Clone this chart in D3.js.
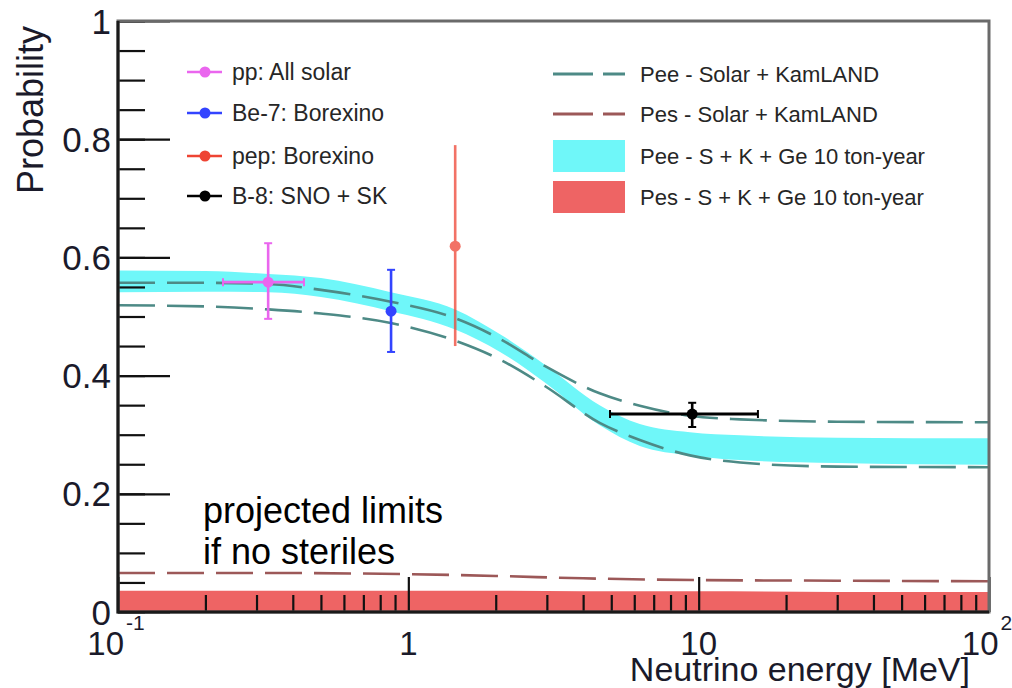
<!DOCTYPE html>
<html>
<head>
<meta charset="utf-8">
<script src="https://cdn.jsdelivr.net/npm/d3@7/dist/d3.min.js"></script>
<style>
  body { margin: 0; background: #fff; }
  text { font-family: "Liberation Sans", Arial, Helvetica, sans-serif; }
</style>
</head>
<body>
<div class="chart-container"></div>
<script>
// 曲線讀值的能量點 (MeV)
const curveEnergy = [0.1, 0.2, 0.33, 0.5, 0.87, 1.45, 2.07, 2.96, 4.56, 6.27, 9.33, 13.9, 30, 100];
// Pee - Solar + KamLAND (兩條虛線)
const peeUpper = [0.557, 0.557, 0.555, 0.545, 0.525, 0.497, 0.462, 0.416, 0.370, 0.349, 0.332, 0.326, 0.322, 0.321];
const peeLower = [0.519, 0.517, 0.512, 0.505, 0.489, 0.459, 0.427, 0.382, 0.320, 0.291, 0.265, 0.253, 0.246, 0.245];
// Pee - S + K + Ge 10 ton-year (青色帶)
const peeBandTop = [0.578, 0.577, 0.572, 0.565, 0.541, 0.512, 0.470, 0.418, 0.350, 0.318, 0.304, 0.299, 0.295, 0.294];
const peeBandBottom = [0.541, 0.542, 0.541, 0.533, 0.509, 0.478, 0.440, 0.388, 0.316, 0.281, 0.265, 0.257, 0.252, 0.249];

// Pes 曲線
const pesEnergy = [0.1, 0.33, 1, 2, 4, 10, 30, 100];
const pesLine = [0.066, 0.066, 0.064, 0.061, 0.057, 0.054, 0.053, 0.052];
const pesBandTop = [0.036, 0.036, 0.036, 0.036, 0.035, 0.035, 0.034, 0.034];
const pesBandBottom = [0, 0, 0, 0, 0, 0, 0, 0];

// 量測點
const pointNames = ['pp: All solar', 'Be-7: Borexino', 'pep: Borexino', 'B-8: SNO + SK'];
const pointColors = ['#ea66ee', '#3344ff', '#ee4433', '#000000'];
const pointEnergy = [0.329, 0.872, 1.45, 9.5];
const pointEnergyLow = [0.230, null, null, 4.95];
const pointEnergyHigh = [0.437, null, null, 16.0];
const pointProb = [0.558, 0.509, 0.619, 0.335];
const pointProbLow = [0.496, 0.440, 0.450, 0.313];
const pointProbHigh = [0.624, 0.579, 0.790, 0.354];

// 圖例 (右側)
const curveNames = ['Pee - Solar + KamLAND', 'Pes - Solar + KamLAND', 'Pee - S + K + Ge 10 ton-year', 'Pes - S + K + Ge 10 ton-year'];

// 刻度
const yMajorTicks = [0, 0.2, 0.4, 0.6, 0.8, 1];
const yTickLabels = ['0', '0.2', '0.4', '0.6', '0.8', '1'];
const yMinorTicks = d3.range(0, 1.0001, 0.05);
const xMajorTicks = [0.1, 1, 10, 100];
const xTickBase = ['10', '1', '10', '10'];
const xTickExp = ['-1', '', '', '2'];
const xMinorTicks = [0.1, 1, 10].flatMap(d => d3.range(2, 10).map(k => k * d));

const colors = {
    pee: '#4d8a86',
    pes: '#9c5858',
    peeBand: '#6ff7f9',
    pesBand: '#ee6464'
};

function setupCanvas() {
    const svg_width = 1012;
    const svg_height = 688;
    const margin = { top: 21, bottom: 76, left: 118, right: 23 };
    const x0 = margin.left, x1 = svg_width - margin.right;
    const y0 = svg_height - margin.bottom, y1 = margin.top;

    const svg = d3.select('.chart-container')
        .append('svg')
        .attr('width', svg_width).attr('height', svg_height)
        .style('background', '#fff');

    const xScale = d3.scaleLog().domain([0.1, 100]).range([x0, x1]);
    const yScale = d3.scaleLinear().domain([0, 1]).range([y0, y1]);

    const plot = svg.append('g');

    // 帶狀區域
    const bandGen = d3.area()
        .x(d => xScale(d[0]))
        .y0(d => yScale(d[1]))
        .y1(d => yScale(d[2]))
        .curve(d3.curveMonotoneX);
    plot.append('path')
        .attr('d', bandGen(curveEnergy.map((e, i) => [e, peeBandBottom[i], peeBandTop[i]])))
        .style('fill', colors.peeBand);
    plot.append('path')
        .attr('d', bandGen(pesEnergy.map((e, i) => [e, pesBandBottom[i], pesBandTop[i]])))
        .style('fill', colors.pesBand);

    // 虛線
    const lineGen = d3.line()
        .x(d => xScale(d[0]))
        .y(d => yScale(d[1]))
        .curve(d3.curveMonotoneX);
    [peeUpper, peeLower].forEach(vals => {
        plot.append('path')
            .attr('d', lineGen(curveEnergy.map((e, i) => [e, vals[i]])))
            .style('fill', 'none').style('stroke', colors.pee)
            .style('stroke-width', 2.6).style('stroke-dasharray', '37,12');
    });
    plot.append('path')
        .attr('d', lineGen(pesEnergy.map((e, i) => [e, pesLine[i]])))
        .style('fill', 'none').style('stroke', colors.pes)
        .style('stroke-width', 2.6).style('stroke-dasharray', '37,12');

    // 刻度 (向內)
    const tickStyle = g => {
        g.select('.domain').remove();
        g.selectAll('.tick line').style('stroke', '#111').style('stroke-width', 2.2);
        g.selectAll('.tick text').remove();
    };
    svg.append('g').attr('transform', `translate(0,${y0})`)
        .call(d3.axisBottom(xScale).tickValues(xMinorTicks).tickSize(-17).tickFormat(''))
        .call(tickStyle);
    svg.append('g').attr('transform', `translate(0,${y0})`)
        .call(d3.axisBottom(xScale).tickValues(xMajorTicks).tickSize(-35).tickFormat(''))
        .call(tickStyle);
    svg.append('g').attr('transform', `translate(${x0},0)`)
        .call(d3.axisLeft(yScale).tickValues(yMinorTicks).tickSize(-27).tickFormat(''))
        .call(tickStyle);
    svg.append('g').attr('transform', `translate(${x0},0)`)
        .call(d3.axisLeft(yScale).tickValues(yMajorTicks).tickSize(-52).tickFormat(''))
        .call(tickStyle);

    // 外框
    svg.append('rect')
        .attr('x', x0).attr('y', y1)
        .attr('width', x1 - x0).attr('height', y0 - y1)
        .style('fill', 'none').style('stroke', '#6a6a6a').style('stroke-width', 3);
    svg.append('path')
        .attr('d', `M${x0},${y1}V${y0}H${x1}`)
        .style('fill', 'none').style('stroke', '#1a1a1a').style('stroke-width', 3);

    // 量測點 + 誤差線
    const pts = pointNames.map((name, i) => ({
        name, color: pointColors[i], e: pointEnergy[i], p: pointProb[i],
        eLo: pointEnergyLow[i], eHi: pointEnergyHigh[i],
        pLo: pointProbLow[i], pHi: pointProbHigh[i]
    }));
    const ptGroup = svg.append('g').attr('class', 'points');
    pts.forEach(d => {
        const g = ptGroup.append('g')
            .style('stroke', d.color).style('fill', d.color)
            .style('opacity', d.name.startsWith('pep') ? 0.75 : 1);
        const cx = xScale(d.e), cy = yScale(d.p);
        g.append('line')
            .attr('x1', cx).attr('x2', cx)
            .attr('y1', yScale(d.pLo)).attr('y2', yScale(d.pHi))
            .style('stroke-width', 2.6);
        if (!d.name.startsWith('pep')) {
            [d.pLo, d.pHi].forEach(v => g.append('line')
                .attr('x1', cx - 4).attr('x2', cx + 4)
                .attr('y1', yScale(v)).attr('y2', yScale(v))
                .style('stroke-width', 2));
        }
        if (d.eLo) {
            g.append('line')
                .attr('x1', xScale(d.eLo)).attr('x2', xScale(d.eHi))
                .attr('y1', cy).attr('y2', cy)
                .style('stroke-width', 2.8);
            [d.eLo, d.eHi].forEach(v => g.append('line')
                .attr('x1', xScale(v)).attr('x2', xScale(v))
                .attr('y1', cy - 4).attr('y2', cy + 4)
                .style('stroke-width', 2));
        }
        g.append('circle').attr('cx', cx).attr('cy', cy).attr('r', 5.5).style('stroke', 'none');
    });

    // 左側圖例
    const legendRows = [72, 113, 156, 196];
    const legL = svg.append('g').attr('class', 'legend-left');
    pts.forEach((d, i) => {
        const y = legendRows[i];
        legL.append('line').attr('x1', 187).attr('x2', 222).attr('y1', y).attr('y2', y)
            .style('stroke', d.color).style('stroke-width', 2.6);
        legL.append('circle').attr('cx', 205).attr('cy', y).attr('r', 5.5).style('fill', d.color);
        legL.append('text').attr('x', 232).attr('y', y + 8)
            .text(d.name).style('font-size', '23px').style('fill', '#262626');
    });

    // 右側圖例
    const legR = svg.append('g').attr('class', 'legend-right');
    const rightRows = [74, 114, 156, 197];
    [colors.pee, colors.pes].forEach((c, i) => {
        legR.append('line').attr('x1', 553).attr('x2', 625)
            .attr('y1', rightRows[i]).attr('y2', rightRows[i])
            .style('stroke', c).style('stroke-width', 3).style('stroke-dasharray', '40,10');
    });
    [colors.peeBand, colors.pesBand].forEach((c, i) => {
        legR.append('rect').attr('x', 553).attr('y', rightRows[i + 2] - 16)
            .attr('width', 72).attr('height', 32).style('fill', c);
    });
    curveNames.forEach((name, i) => {
        legR.append('text').attr('x', 640).attr('y', rightRows[i] + 7.5)
            .text(name).style('font-size', '22px').style('fill', '#262626');
    });

    // 刻度文字
    svg.append('g').selectAll('text')
        .data(yMajorTicks).enter()
        .append('text')
        .attr('x', 111).attr('y', d => yScale(d))
        .attr('dy', '0.36em')
        .attr('text-anchor', 'end')
        .style('font-size', '35px').style('fill', '#1a1a2a')
        .text((d, i) => yTickLabels[i]);

    const xLab = svg.append('g').selectAll('text')
        .data(xMajorTicks).enter()
        .append('text')
        .attr('x', (d, i) => xScale(d) - (xTickExp[i] ? 2 : 0))
        .attr('y', 655)
        .attr('text-anchor', 'middle')
        .style('font-size', '33px').style('fill', '#1a1a2a');
    xLab.append('tspan').text((d, i) => xTickBase[i]);
    xLab.append('tspan')
        .attr('dx', 2)
        .attr('dy', -25)
        .style('font-size', '21px')
        .text((d, i) => xTickExp[i]);

    // 軸標題
    svg.append('text')
        .attr('x', 970).attr('y', 681)
        .attr('text-anchor', 'end')
        .style('font-size', '34px').style('fill', '#1a1a2a')
        .text('Neutrino energy [MeV]');
    svg.append('text')
        .attr('transform', 'translate(43,26) rotate(-90)')
        .attr('text-anchor', 'end')
        .style('font-size', '36px').style('fill', '#1a1a2a')
        .text('Probability');

    // 註解
    const note = svg.append('text')
        .attr('x', 203).attr('y', 523)
        .style('font-size', '36px').style('fill', '#000');
    note.append('tspan').text('projected limits');
    note.append('tspan').attr('x', 203).attr('dy', 41).text('if no steriles');
}

setupCanvas();
</script>
</body>
</html>
